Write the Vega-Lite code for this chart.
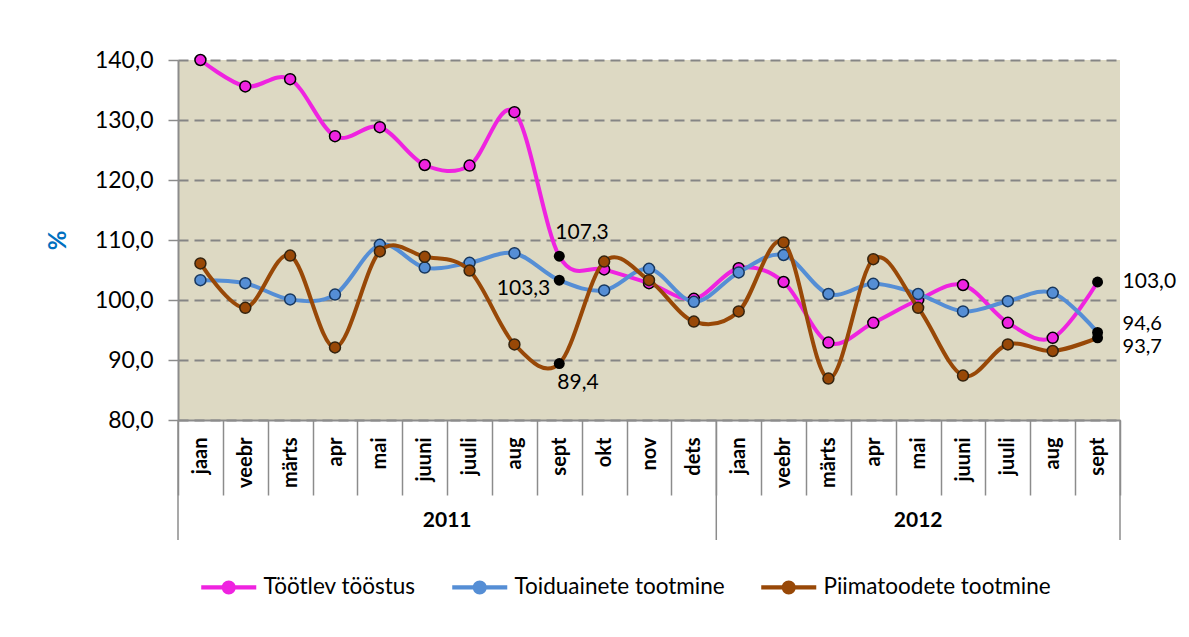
{
  "$schema": "https://vega.github.io/schema/vega-lite/v6.json",
  "width": 942,
  "height": 360,
  "autosize": {"type": "none"},
  "padding": {"left": 178, "top": 60, "right": 69, "bottom": 217},
  "background": "white",
  "config": {
    "font": "Lato",
    "locale": {"number": {"decimal": ",", "thousands": " ", "grouping": [3], "currency": ["", ""]}},
    "view": {"fill": "#DDD9C3", "stroke": null}
  },
  "data": {"values": [
    {"key":"2011-jaan","series":"Töötlev tööstus","value":140.0},
    {"key":"2011-jaan","series":"Toiduainete tootmine","value":103.3},
    {"key":"2011-jaan","series":"Piimatoodete tootmine","value":106.1},
    {"key":"2011-veebr","series":"Töötlev tööstus","value":135.6},
    {"key":"2011-veebr","series":"Toiduainete tootmine","value":102.8},
    {"key":"2011-veebr","series":"Piimatoodete tootmine","value":98.7},
    {"key":"2011-märts","series":"Töötlev tööstus","value":136.8},
    {"key":"2011-märts","series":"Toiduainete tootmine","value":100.1},
    {"key":"2011-märts","series":"Piimatoodete tootmine","value":107.4},
    {"key":"2011-apr","series":"Töötlev tööstus","value":127.3},
    {"key":"2011-apr","series":"Toiduainete tootmine","value":100.9},
    {"key":"2011-apr","series":"Piimatoodete tootmine","value":92.1},
    {"key":"2011-mai","series":"Töötlev tööstus","value":128.8},
    {"key":"2011-mai","series":"Toiduainete tootmine","value":109.2},
    {"key":"2011-mai","series":"Piimatoodete tootmine","value":108.1},
    {"key":"2011-juuni","series":"Töötlev tööstus","value":122.5},
    {"key":"2011-juuni","series":"Toiduainete tootmine","value":105.4},
    {"key":"2011-juuni","series":"Piimatoodete tootmine","value":107.2},
    {"key":"2011-juuli","series":"Töötlev tööstus","value":122.4},
    {"key":"2011-juuli","series":"Toiduainete tootmine","value":106.2},
    {"key":"2011-juuli","series":"Piimatoodete tootmine","value":104.9},
    {"key":"2011-aug","series":"Töötlev tööstus","value":131.3},
    {"key":"2011-aug","series":"Toiduainete tootmine","value":107.8},
    {"key":"2011-aug","series":"Piimatoodete tootmine","value":92.6},
    {"key":"2011-sept","series":"Töötlev tööstus","value":107.3},
    {"key":"2011-sept","series":"Toiduainete tootmine","value":103.3},
    {"key":"2011-sept","series":"Piimatoodete tootmine","value":89.4},
    {"key":"2011-okt","series":"Töötlev tööstus","value":105.1},
    {"key":"2011-okt","series":"Toiduainete tootmine","value":101.6},
    {"key":"2011-okt","series":"Piimatoodete tootmine","value":106.4},
    {"key":"2011-nov","series":"Töötlev tööstus","value":102.8},
    {"key":"2011-nov","series":"Toiduainete tootmine","value":105.2},
    {"key":"2011-nov","series":"Piimatoodete tootmine","value":103.3},
    {"key":"2011-dets","series":"Töötlev tööstus","value":100.2},
    {"key":"2011-dets","series":"Toiduainete tootmine","value":99.7},
    {"key":"2011-dets","series":"Piimatoodete tootmine","value":96.4},
    {"key":"2012-jaan","series":"Töötlev tööstus","value":105.3},
    {"key":"2012-jaan","series":"Toiduainete tootmine","value":104.6},
    {"key":"2012-jaan","series":"Piimatoodete tootmine","value":98.1},
    {"key":"2012-veebr","series":"Töötlev tööstus","value":103.0},
    {"key":"2012-veebr","series":"Toiduainete tootmine","value":107.5},
    {"key":"2012-veebr","series":"Piimatoodete tootmine","value":109.6},
    {"key":"2012-märts","series":"Töötlev tööstus","value":92.9},
    {"key":"2012-märts","series":"Toiduainete tootmine","value":101.0},
    {"key":"2012-märts","series":"Piimatoodete tootmine","value":86.9},
    {"key":"2012-apr","series":"Töötlev tööstus","value":96.2},
    {"key":"2012-apr","series":"Toiduainete tootmine","value":102.7},
    {"key":"2012-apr","series":"Piimatoodete tootmine","value":106.8},
    {"key":"2012-mai","series":"Töötlev tööstus","value":100.0},
    {"key":"2012-mai","series":"Toiduainete tootmine","value":101.0},
    {"key":"2012-mai","series":"Piimatoodete tootmine","value":98.7},
    {"key":"2012-juuni","series":"Töötlev tööstus","value":102.5},
    {"key":"2012-juuni","series":"Toiduainete tootmine","value":98.1},
    {"key":"2012-juuni","series":"Piimatoodete tootmine","value":87.4},
    {"key":"2012-juuli","series":"Töötlev tööstus","value":96.2},
    {"key":"2012-juuli","series":"Toiduainete tootmine","value":99.8},
    {"key":"2012-juuli","series":"Piimatoodete tootmine","value":92.6},
    {"key":"2012-aug","series":"Töötlev tööstus","value":93.7},
    {"key":"2012-aug","series":"Toiduainete tootmine","value":101.2},
    {"key":"2012-aug","series":"Piimatoodete tootmine","value":91.5},
    {"key":"2012-sept","series":"Töötlev tööstus","value":103.0},
    {"key":"2012-sept","series":"Toiduainete tootmine","value":94.6},
    {"key":"2012-sept","series":"Piimatoodete tootmine","value":93.7}
  ]},
  "encoding": {
    "x": {
      "field": "key", "type": "ordinal",
      "sort": ["2011-jaan","2011-veebr","2011-märts","2011-apr","2011-mai","2011-juuni","2011-juuli","2011-aug","2011-sept","2011-okt","2011-nov","2011-dets","2012-jaan","2012-veebr","2012-märts","2012-apr","2012-mai","2012-juuni","2012-juuli","2012-aug","2012-sept"],
      "scale": {"type": "band", "paddingInner": 0, "paddingOuter": 0},
      "axis": {
        "title": null,
        "labelExpr": "split(datum.label,'-')[1]",
        "labelAngle": -90,
        "labelFontWeight": "bold",
        "labelFontSize": 20,
        "labelColor": "black",
        "labelPadding": -58,
        "labelOverlap": false,
        "labelBound": false,
        "tickBand": "extent",
        "tickSize": 75,
        "tickColor": "#8C8C8C",
        "tickWidth": 1.5,
        "domainColor": "#8C8C8C",
        "domainWidth": 2,
        "grid": false
      }
    },
    "y": {
      "field": "value", "type": "quantitative",
      "scale": {"domain": [80, 140], "nice": false, "zero": false},
      "axis": {
        "title": "%",
        "titleColor": "#0070C0",
        "titleFontSize": 24,
        "titleFontWeight": "bold",
        "titleX": -120,
        "titleY": 180,
        "titleAlign": "center",
        "titleBaseline": "middle",
        "values": [80, 90, 100, 110, 120, 130, 140],
        "format": ".1f",
        "labelFontSize": 23,
        "labelColor": "black",
        "labelPadding": 15,
        "tickSize": 10,
        "tickColor": "#8C8C8C",
        "tickWidth": 1.5,
        "domainColor": "#8C8C8C",
        "domainWidth": 2,
        "grid": true,
        "gridColor": "#858585",
        "gridDash": [10, 6],
        "gridWidth": 2
      }
    }
  },
  "layer": [
    {
      "transform": [{"filter": "datum.series == 'Töötlev tööstus' && (datum.key == '2011-jaan' || datum.key == '2012-jaan')"}],
      "mark": {"type": "rule", "color": "#8C8C8C", "strokeWidth": 1.5},
      "encoding": {"x": {"field": "key", "type": "ordinal", "bandPosition": 0}, "y": {"datum": 80, "type": "quantitative"}, "y2": {"datum": 60}}
    },
    {
      "transform": [{"filter": "datum.series == 'Töötlev tööstus' && datum.key == '2012-sept'"}],
      "mark": {"type": "rule", "color": "#8C8C8C", "strokeWidth": 1.5},
      "encoding": {"x": {"field": "key", "type": "ordinal", "bandPosition": 1}, "y": {"datum": 80, "type": "quantitative"}, "y2": {"datum": 60}}
    },
    {
      "transform": [{"filter": "datum.series == 'Töötlev tööstus' && datum.key == '2011-juuli'"}],
      "mark": {"type": "text", "fontWeight": "bold", "fontSize": 21, "color": "black", "dy": 101, "baseline": "middle", "align": "center"},
      "encoding": {"x": {"field": "key", "type": "ordinal", "bandPosition": 0}, "y": {"datum": 80, "type": "quantitative"}, "text": {"value": "2011"}}
    },
    {
      "transform": [{"filter": "datum.series == 'Töötlev tööstus' && datum.key == '2012-mai'"}],
      "mark": {"type": "text", "fontWeight": "bold", "fontSize": 21, "color": "black", "dy": 101, "baseline": "middle", "align": "center"},
      "encoding": {"x": {"field": "key", "type": "ordinal", "bandPosition": 0.5}, "y": {"datum": 80, "type": "quantitative"}, "text": {"value": "2012"}}
    },
    {
      "encoding": {
        "color": {
          "field": "series", "type": "nominal",
          "scale": {"domain": ["Töötlev tööstus", "Toiduainete tootmine", "Piimatoodete tootmine"], "range": ["#EF23E0", "#558ED5", "#984807"]},
          "legend": {
            "title": null,
            "orient": "none",
            "legendX": 19,
            "legendY": 516,
            "direction": "horizontal",
            "symbolType": "M-3.93,-0.3H3.93V0.3H-3.93Z M-1,0A1,1 0 1,1 1,0A1,1 0 1,1 -1,0Z",
            "symbolSize": 196,
            "symbolOffset": 20.5,
            "labelOffset": 23.5,
            "columnPadding": 32,
            "labelFontSize": 22.5,
            "labelLimit": 400,
            "labelColor": "black",
            "padding": 0,
            "symbolStrokeWidth": 0,
            "encode": {"symbols": {"update": {"fill": {"scale": "color", "field": "value"}, "stroke": {"value": "transparent"}, "opacity": {"value": 1}}}}
          }
        }
      },
      "layer": [
        {"transform": [{"filter": "datum.series == 'Töötlev tööstus'"}], "mark": {"type": "line", "interpolate": "cardinal", "tension": 0, "strokeWidth": 4}},
        {"transform": [{"filter": "datum.series == 'Töötlev tööstus' && datum.key != '2011-sept' && datum.key != '2012-sept'"}], "mark": {"type": "point", "filled": true, "size": 120, "strokeWidth": 1.5, "stroke": "#000000", "opacity": 1}},
        {"transform": [{"filter": "datum.series == 'Toiduainete tootmine'"}], "mark": {"type": "line", "interpolate": "cardinal", "tension": 0, "strokeWidth": 4}},
        {"transform": [{"filter": "datum.series == 'Toiduainete tootmine' && datum.key != '2011-sept' && datum.key != '2012-sept'"}], "mark": {"type": "point", "filled": true, "size": 120, "strokeWidth": 1.5, "stroke": "#17375E", "opacity": 1}},
        {"transform": [{"filter": "datum.series == 'Piimatoodete tootmine'"}], "mark": {"type": "line", "interpolate": "cardinal", "tension": 0, "strokeWidth": 4}},
        {"transform": [{"filter": "datum.series == 'Piimatoodete tootmine' && datum.key != '2011-sept' && datum.key != '2012-sept'"}], "mark": {"type": "point", "filled": true, "size": 120, "strokeWidth": 1.5, "stroke": "#33230F", "opacity": 1}}
      ]
    },
    {
      "transform": [{"filter": "datum.key == '2011-sept' || datum.key == '2012-sept'"}],
      "mark": {"type": "point", "filled": true, "size": 120, "strokeWidth": 1.5, "color": "black", "opacity": 1}
    },
    {
      "transform": [{"filter": "datum.key == '2011-sept' && datum.series == 'Töötlev tööstus'"}],
      "mark": {"type": "text", "align": "left", "baseline": "middle", "dx": -4, "dy": -23, "fontSize": 21, "color": "black"},
      "encoding": {"text": {"field": "value", "type": "quantitative", "format": ".1f"}}
    },
    {
      "transform": [{"filter": "datum.key == '2011-sept' && datum.series == 'Toiduainete tootmine'"}],
      "mark": {"type": "text", "align": "right", "baseline": "middle", "dx": -9, "dy": 9, "fontSize": 21, "color": "black"},
      "encoding": {"text": {"field": "value", "type": "quantitative", "format": ".1f"}}
    },
    {
      "transform": [{"filter": "datum.key == '2011-sept' && datum.series == 'Piimatoodete tootmine'"}],
      "mark": {"type": "text", "align": "left", "baseline": "middle", "dx": -2, "dy": 19, "fontSize": 21, "color": "black"},
      "encoding": {"text": {"field": "value", "type": "quantitative", "format": ".1f"}}
    },
    {
      "transform": [{"filter": "datum.key == '2012-sept' && datum.series == 'Töötlev tööstus'"}],
      "mark": {"type": "text", "align": "left", "baseline": "middle", "dx": 25, "dy": 0, "fontSize": 21, "color": "black"},
      "encoding": {"text": {"field": "value", "type": "quantitative", "format": ".1f"}}
    },
    {
      "transform": [{"filter": "datum.key == '2012-sept' && datum.series == 'Toiduainete tootmine'"}],
      "mark": {"type": "text", "align": "left", "baseline": "middle", "dx": 25, "dy": -8, "fontSize": 20, "color": "black"},
      "encoding": {"text": {"field": "value", "type": "quantitative", "format": ".1f"}}
    },
    {
      "transform": [{"filter": "datum.key == '2012-sept' && datum.series == 'Piimatoodete tootmine'"}],
      "mark": {"type": "text", "align": "left", "baseline": "middle", "dx": 25, "dy": 9, "fontSize": 20, "color": "black"},
      "encoding": {"text": {"field": "value", "type": "quantitative", "format": ".1f"}}
    }
  ]
}
